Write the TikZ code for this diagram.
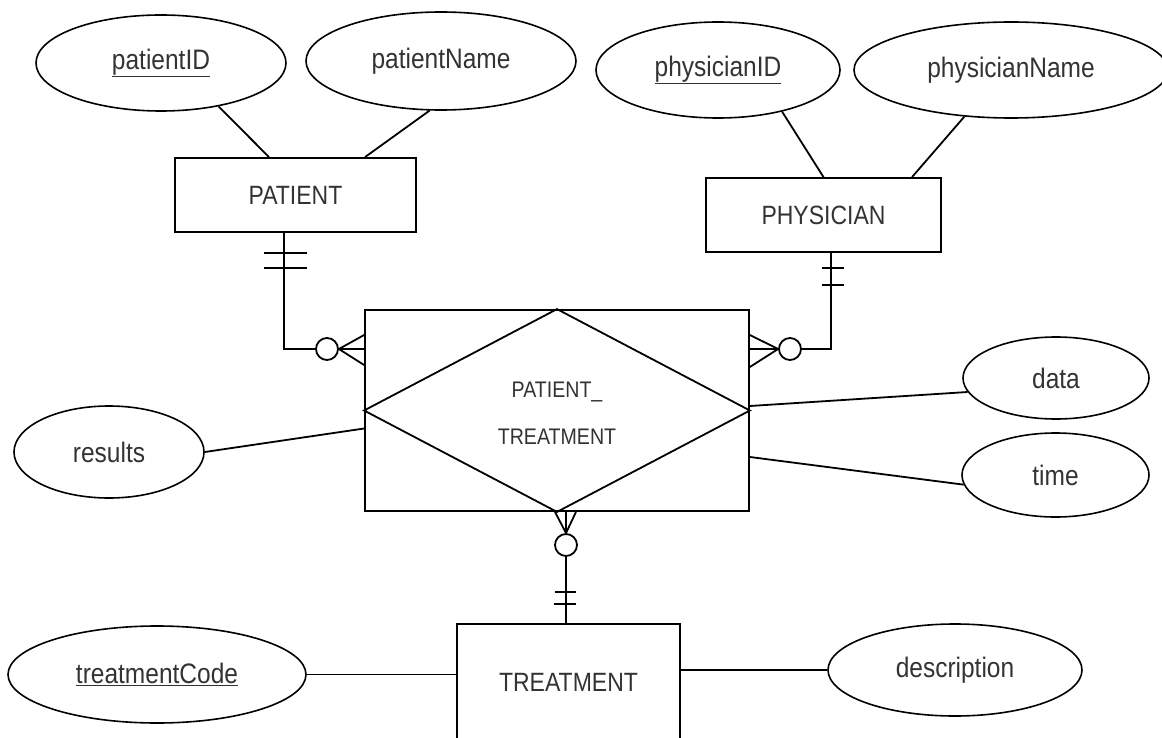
\documentclass[tikz,border=0pt]{standalone}
\usepackage{fontspec}
\usepackage{graphicx}
\setmainfont{Liberation Sans}
\usetikzlibrary{shapes.geometric}
\newcommand\stx[1]{\scalebox{1}[1.15]{#1}}
\begin{document}
\begin{tikzpicture}[x=1pt,y=-1pt,
  ln/.style={line width=1.8pt},
  attr/.style={ellipse,draw,line width=1.6pt,inner sep=0pt,text=black!80,font=\fontsize{24.5}{28}\selectfont},
  ent/.style={rectangle,draw,line width=1.8pt,inner sep=0pt,text=black!80,font=\fontsize{23}{27}\selectfont},
  rel/.style={inner sep=0pt,text=black!80,font=\fontsize{19.6}{23}\selectfont},
  ring/.style={circle,draw,line width=1.8pt,minimum size=22pt,inner sep=0pt},
]
\useasboundingbox (0,0) rectangle (1162,738);
\clip (0,0) rectangle (1162,738);
\fill[white] (0,0) rectangle (1162,738);

% attributes
\node[attr,minimum width=250pt,minimum height=96pt] (pid) at (161,63) {\stx{\underline{patientID}}};
\node[attr,minimum width=270pt,minimum height=98pt] (pname) at (441,61) {\stx{patientName}};
\node[attr,minimum width=244pt,minimum height=96pt] (phid) at (718,70) {\stx{\underline{physicianID}}};
\node[attr,minimum width=314pt,minimum height=96pt] (phname) at (1011,70) {\stx{physicianName}};
\node[attr,minimum width=190pt,minimum height=92pt] (res) at (109,452) {\stx{results}};
\node[attr,minimum width=186pt,minimum height=82pt] (data) at (1056,378) {\stx{data}};
\node[attr,minimum width=187pt,minimum height=84pt] (time) at (1055.5,475) {\stx{time}};
\node[attr,minimum width=298pt,minimum height=97pt] (tc) at (157,674.5) {\stx{\underline{treatmentCode}}};
\node[attr,minimum width=254pt,minimum height=92pt] (desc) at (955,670) {\stx{description}};

% entities
\node[ent,minimum width=241pt,minimum height=74pt] (patient) at (295.5,195) {\stx{PATIENT}};
\node[ent,minimum width=235pt,minimum height=74pt] (phys) at (823.5,215) {\stx{PHYSICIAN}};
\node[ent,minimum width=384pt,minimum height=201pt] (pt) at (557,410.5) {};
\draw[ln] (pt.north) -- (pt.east) -- (pt.south) -- (pt.west) -- cycle;
\node[rel] (ptl1) at (557,392) {\stx{PATIENT\_}};
\node[rel] (ptl2) at (557,437) {\stx{TREATMENT}};
\node[ent,draw=none,minimum width=221pt,minimum height=114pt] (treat) at (568.5,682) {\stx{TREATMENT}};
\draw[ln] ([yshift=-30pt]treat.south west) -- (treat.north west) -- (treat.north east) -- ([yshift=-30pt]treat.south east);

% attribute links
\draw[ln] (pid.-37) -- ([xshift=-26.5pt]patient.north);
\draw[ln] (pname.-103.5) -- ([xshift=69.5pt]patient.north);
\draw[ln] (phid.-33.3) -- (phys.north);
\draw[ln] (phname.-135.6) -- ([xshift=88.5pt]phys.north);
\draw[ln] (res.east) -- ([yshift=-18pt]pt.west);
\draw[ln] (data.189.4) -- ([yshift=4.5pt]pt.east);
\draw[ln] (time.186) -- ([yshift=-46.5pt]pt.east);
\draw[ln] (tc.east) -- (tc.east -| treat.west);
\draw[ln] (desc.west -| treat.east) -- (desc.west);

% PATIENT -- PATIENT_TREATMENT
\node[ring] (cl) at (327,349) {};
\draw[ln] ([xshift=-11.5pt]patient.south) |- (cl.west);
\draw[ln] ([yshift=14pt]pt.west |- cl.east) -- (cl.east) -- ([yshift=-16pt]pt.west |- cl.east);
\draw[ln] (cl.east) -- (pt.west |- cl.east);
\draw[ln] ([xshift=-32pt,yshift=-20pt]patient.south) -- ++(43,0);
\draw[ln] ([xshift=-32pt,yshift=-35pt]patient.south) -- ++(43,0);

% PHYSICIAN -- PATIENT_TREATMENT
\node[ring] (cr) at (790,349) {};
\draw[ln] ([xshift=7.5pt]phys.south) |- (cr.east);
\draw[ln] ([yshift=14pt]pt.east |- cr.west) -- (cr.west) -- ([yshift=-18pt]pt.east |- cr.west);
\draw[ln] (cr.west) -- (pt.east |- cr.west);
\draw[ln] ([xshift=-1.5pt,yshift=-15pt]phys.south) -- ++(22,0);
\draw[ln] ([xshift=-1.5pt,yshift=-32pt]phys.south) -- ++(22,0);

% TREATMENT -- PATIENT_TREATMENT
\node[ring] (cb) at (566,545) {};
\draw[ln] (cb.south) -- (treat.north -| cb.south);
\draw[ln] ([xshift=-2pt]pt.south) -- (cb.north) -- ([xshift=19pt]pt.south);
\draw[ln] (cb.north) -- (pt.south -| cb.north);
\draw[ln] ([xshift=-13.5pt,yshift=32pt]treat.north) -- ++(21,0);
\draw[ln] ([xshift=-15pt,yshift=20pt]treat.north) -- ++(22,0);
\end{tikzpicture}
\end{document}
